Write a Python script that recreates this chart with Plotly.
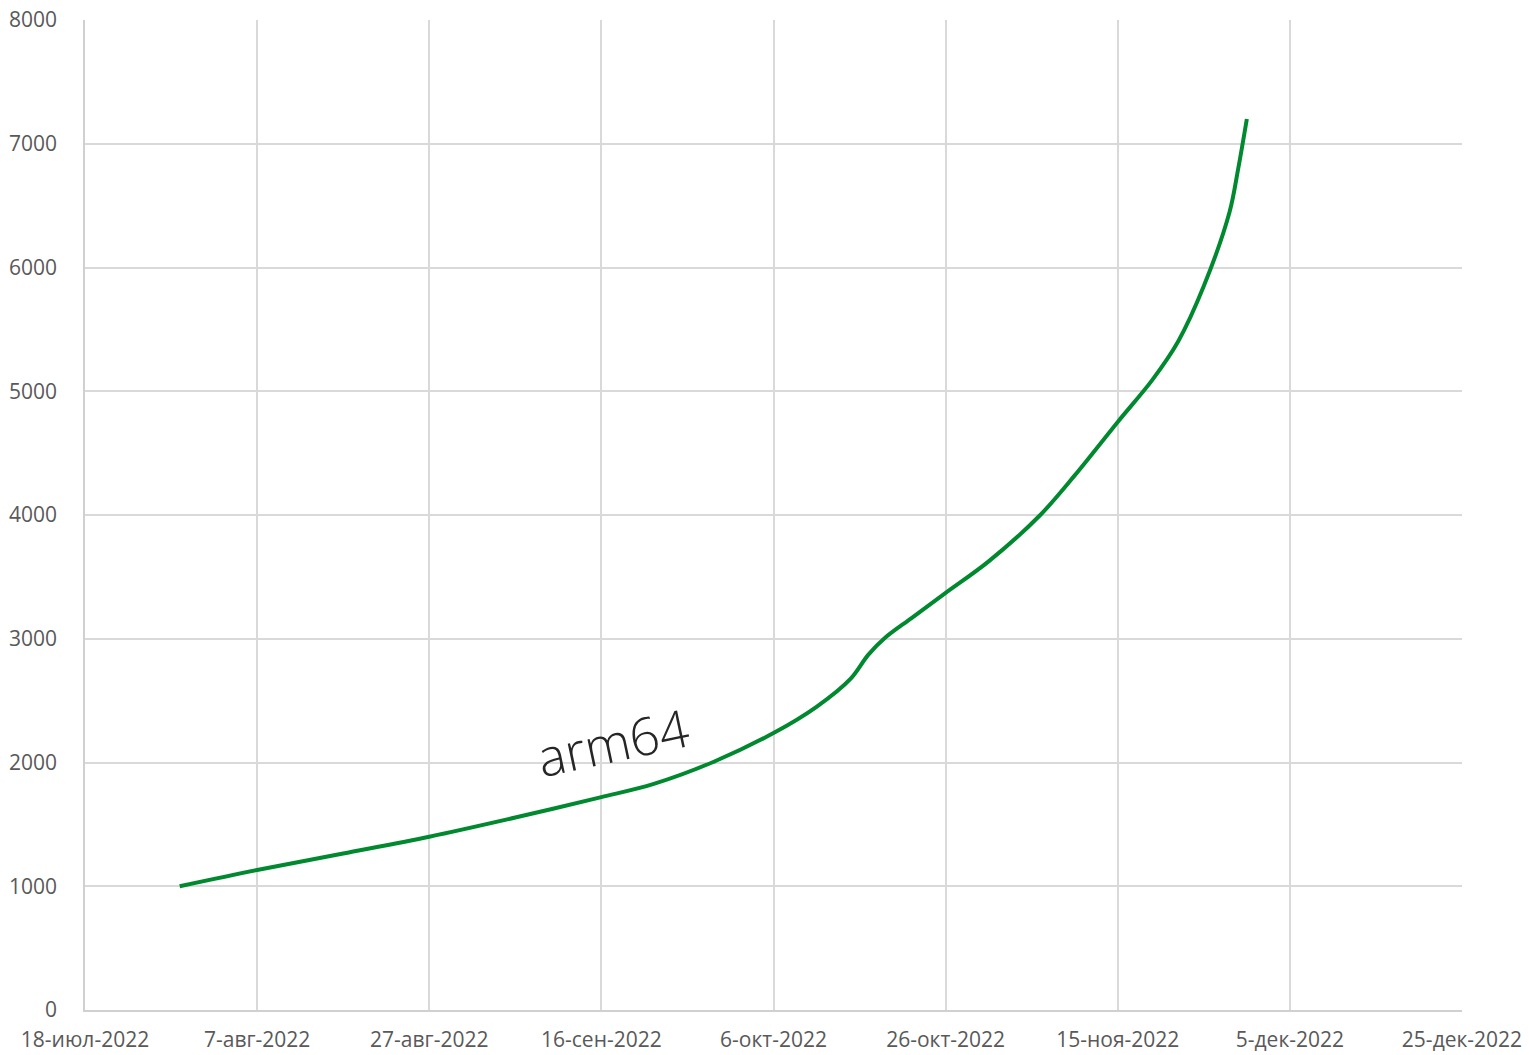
import plotly.graph_objects as go

dates = ["2022-07-29", "2022-08-07", "2022-08-17", "2022-08-27", "2022-09-06",
         "2022-09-16", "2022-09-22", "2022-09-29", "2022-10-06", "2022-10-11",
         "2022-10-15", "2022-10-17", "2022-10-19", "2022-10-22", "2022-10-26",
         "2022-10-31", "2022-11-06", "2022-11-10", "2022-11-15", "2022-11-19",
         "2022-11-22", "2022-11-25", "2022-11-28", "2022-11-29", "2022-11-30"]
values = [1000, 1131, 1265, 1400, 1555,
          1720, 1825, 2004, 2238, 2450,
          2680, 2870, 3010, 3165, 3370,
          3625, 4000, 4320, 4752, 5090,
          5400, 5850, 6450, 6800, 7200]

tick_dates = ["2022-07-18", "2022-08-07", "2022-08-27", "2022-09-16", "2022-10-06",
              "2022-10-26", "2022-11-15", "2022-12-05", "2022-12-25"]
tick_labels = ["18-июл-2022", "7-авг-2022", "27-авг-2022", "16-сен-2022", "6-окт-2022",
               "26-окт-2022", "15-ноя-2022", "5-дек-2022", "25-дек-2022"]
y_ticks = [0, 1000, 2000, 3000, 4000, 5000, 6000, 7000, 8000]

series_label = "arm64"

fig = go.Figure()
fig.add_trace(go.Scatter(
    x=dates, y=values, mode="lines",
    line=dict(color="#00892f", width=4, shape="spline", smoothing=0.9),
    showlegend=False, hoverinfo="x+y",
))

fig.add_annotation(
    x="2022-09-17 06:00", y=2170, xref="x", yref="y",
    text=series_label, showarrow=False, textangle=-12,
    font=dict(family="Open Sans", size=52, color="#262626", weight=300),
)

tick_font = dict(family="Open Sans", size=21, color="#595959")
fig.update_xaxes(
    type="date", range=["2022-07-18", "2022-12-25"],
    tickmode="array", tickvals=tick_dates, ticktext=tick_labels,
    showgrid=True, gridcolor="#d9d9d9", gridwidth=1.5,
    showline=True, linecolor="#d0d0d0", linewidth=1.5,
    zeroline=False, ticks="", tickfont=tick_font, ticklabelstandoff=10,
    automargin=False, ticklabeloverflow="allow",
)
fig.update_yaxes(
    range=[0, 8000], tickmode="array", tickvals=y_ticks,
    showgrid=True, gridcolor="#d9d9d9", gridwidth=1.5,
    showline=True, linecolor="#d0d0d0", linewidth=1.5,
    zeroline=False, ticks="", tickfont=tick_font, ticklabelstandoff=22,
    automargin=False, ticklabeloverflow="allow",
)
fig.update_layout(
    width=1529, height=1055,
    margin=dict(l=85, r=67, t=20, b=45),
    plot_bgcolor="white", paper_bgcolor="white",
)
fig.write_html("out.html", config={"displayModeBar": False},
               post_script="document.body.style.margin='0';document.body.style.overflow='hidden';")
